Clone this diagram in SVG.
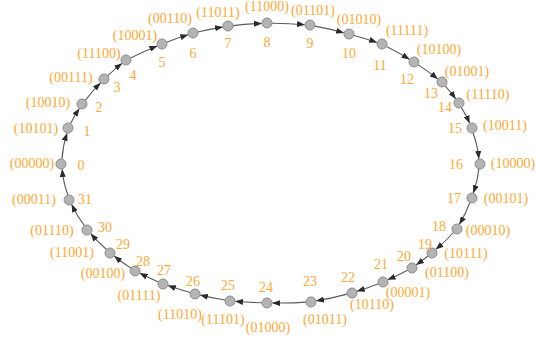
<svg xmlns="http://www.w3.org/2000/svg" width="536" height="339" viewBox="0 0 536 339">
<style>
.e{fill:none;stroke:#5a5a5a;stroke-width:1.1;marker-end:url(#ah)}
.n circle{fill:#b4b4b4;stroke:#8c8c8c;stroke-width:1}
.n text{font-family:"Liberation Serif","DejaVu Serif",serif;font-size:14px;fill:#FFA733;text-anchor:middle}
</style>
<defs>
<marker id="ah" markerUnits="userSpaceOnUse" markerWidth="8" markerHeight="6" refX="7.5" refY="3" orient="auto"><path d="M0,0 L8,3 L0,6 z" fill="#2a2a2a"/></marker>
</defs>
<rect width="536" height="339" fill="#fff"/>
<g id="connectors">
<path class="e" d="M62,159.1 A210 140 0 0 1 67,133.4"/>
<path class="e" d="M70.5,123.7 A210 140 0 0 1 79.2,108.8"/>
<path class="e" d="M85.3,100.3 A210 140 0 0 1 100.4,83.1"/>
<path class="e" d="M107.8,75.7 A210 140 0 0 1 121.8,63.6"/>
<path class="e" d="M130.6,58 A210 140 0 0 1 157,46.2"/>
<path class="e" d="M166.7,42.3 A210 140 0 0 1 187.8,34.8"/>
<path class="e" d="M197.9,32 A210 140 0 0 1 222.6,27.1"/>
<path class="e" d="M233,25.6 A210 140 0 0 1 261.5,23.4"/>
<path class="e" d="M272,23.2 A210 140 0 0 1 304.5,24.8"/>
<path class="e" d="M314.9,26.1 A210 140 0 0 1 343.6,32.8"/>
<path class="e" d="M353.8,35.5 A210 140 0 0 1 376.7,42.4"/>
<path class="e" d="M386.4,46.5 A210 140 0 0 1 409.2,59.3"/>
<path class="e" d="M418.1,64.9 A210 140 0 0 1 437.5,78.8"/>
<path class="e" d="M445.2,85.9 A210 140 0 0 1 455.5,98.7"/>
<path class="e" d="M461.3,107.4 A210 140 0 0 1 469.5,123.1"/>
<path class="e" d="M473.1,132.9 A210 140 0 0 1 478.8,158.6"/>
<path class="e" d="M478.9,168.9 A210 140 0 0 1 473.3,192.7"/>
<path class="e" d="M469.8,202.5 A210 140 0 0 1 459.4,224.1"/>
<path class="e" d="M453.4,232.5 A210 140 0 0 1 436,249.2"/>
<path class="e" d="M428,256 A210 140 0 0 1 416.4,264.7"/>
<path class="e" d="M407.5,270.2 A210 140 0 0 1 388,279.6"/>
<path class="e" d="M378.3,283.7 A210 140 0 0 1 357.2,291.2"/>
<path class="e" d="M347.1,294.1 A210 140 0 0 1 316.4,300.8"/>
<path class="e" d="M306,302.1 A210 140 0 0 1 272.5,302.9"/>
<path class="e" d="M262,302.7 A210 140 0 0 1 235.5,301.3"/>
<path class="e" d="M225.1,300 A210 140 0 0 1 200.4,295.1"/>
<path class="e" d="M190.2,292.5 A210 140 0 0 1 168.3,285.6"/>
<path class="e" d="M158.5,281.9 A210 140 0 0 1 140,273.3"/>
<path class="e" d="M130.9,268.1 A210 140 0 0 1 114.5,256.2"/>
<path class="e" d="M106.5,249.5 A210 140 0 0 1 90.9,233.9"/>
<path class="e" d="M84.4,225.7 A210 140 0 0 1 71.8,204.7"/>
<path class="e" d="M67.9,195.1 A210 140 0 0 1 62.2,169.4"/>
</g>
<g id="n0" class="n"><circle cx="61" cy="164" r="5"/><text x="81" y="170">0</text><text x="32" y="168">(00000)</text></g>
<g id="n1" class="n"><circle cx="68" cy="128" r="5"/><text x="87" y="136">1</text><text x="36" y="133">(10101)</text></g>
<g id="n2" class="n"><circle cx="82" cy="104" r="5"/><text x="99" y="112">2</text><text x="48" y="107">(10010)</text></g>
<g id="n3" class="n"><circle cx="104" cy="79" r="5"/><text x="117" y="92">3</text><text x="71" y="82">(00111)</text></g>
<g id="n4" class="n"><circle cx="126" cy="60" r="5"/><text x="133" y="80">4</text><text x="99" y="58">(11100)</text></g>
<g id="n5" class="n"><circle cx="162" cy="44" r="5"/><text x="162" y="67">5</text><text x="135" y="40">(10001)</text></g>
<g id="n6" class="n"><circle cx="193" cy="33" r="5"/><text x="193" y="58">6</text><text x="170" y="23">(00110)</text></g>
<g id="n7" class="n"><circle cx="228" cy="26" r="5"/><text x="228" y="48">7</text><text x="218" y="17">(11011)</text></g>
<g id="n8" class="n"><circle cx="267" cy="23" r="5"/><text x="267" y="47">8</text><text x="267" y="11">(11000)</text></g>
<g id="n9" class="n"><circle cx="310" cy="25" r="5"/><text x="310" y="48">9</text><text x="313" y="15">(01101)</text></g>
<g id="n10" class="n"><circle cx="349" cy="34" r="5"/><text x="349" y="58">10</text><text x="359" y="24">(01010)</text></g>
<g id="n11" class="n"><circle cx="382" cy="44" r="5"/><text x="380" y="70">11</text><text x="407" y="35">(11111)</text></g>
<g id="n12" class="n"><circle cx="414" cy="62" r="5"/><text x="407" y="84">12</text><text x="439" y="54">(10100)</text></g>
<g id="n13" class="n"><circle cx="442" cy="82" r="5"/><text x="431" y="98">13</text><text x="467" y="76">(01001)</text></g>
<g id="n14" class="n"><circle cx="459" cy="103" r="5"/><text x="445" y="112">14</text><text x="488" y="99">(11110)</text></g>
<g id="n15" class="n"><circle cx="472" cy="128" r="5"/><text x="455" y="133">15</text><text x="505" y="130">(10011)</text></g>
<g id="n16" class="n"><circle cx="480" cy="164" r="5"/><text x="456" y="169">16</text><text x="513" y="168">(10000)</text></g>
<g id="n17" class="n"><circle cx="472" cy="198" r="5"/><text x="454" y="203">17</text><text x="506" y="203">(00101)</text></g>
<g id="n18" class="n"><circle cx="457" cy="229" r="5"/><text x="439" y="231">18</text><text x="488" y="235">(00010)</text></g>
<g id="n19" class="n"><circle cx="432" cy="253" r="5"/><text x="425" y="249">19</text><text x="466" y="258">(10111)</text></g>
<g id="n20" class="n"><circle cx="412" cy="268" r="5"/><text x="404" y="261">20</text><text x="447" y="277">(01100)</text></g>
<g id="n21" class="n"><circle cx="383" cy="282" r="5"/><text x="381" y="269">21</text><text x="408" y="297">(00001)</text></g>
<g id="n22" class="n"><circle cx="352" cy="293" r="5"/><text x="348" y="282">22</text><text x="372" y="309">(10110)</text></g>
<g id="n23" class="n"><circle cx="311" cy="302" r="5"/><text x="310" y="286">23</text><text x="325" y="324">(01011)</text></g>
<g id="n24" class="n"><circle cx="267" cy="303" r="5"/><text x="266" y="292">24</text><text x="268" y="332">(01000)</text></g>
<g id="n25" class="n"><circle cx="230" cy="301" r="5"/><text x="228" y="290">25</text><text x="223" y="324">(11101)</text></g>
<g id="n26" class="n"><circle cx="195" cy="294" r="5"/><text x="193" y="286">26</text><text x="180" y="319">(11010)</text></g>
<g id="n27" class="n"><circle cx="163" cy="284" r="5"/><text x="164" y="275">27</text><text x="139" y="300">(01111)</text></g>
<g id="n28" class="n"><circle cx="135" cy="271" r="5"/><text x="143" y="266">28</text><text x="103" y="278">(00100)</text></g>
<g id="n29" class="n"><circle cx="110" cy="253" r="5"/><text x="123" y="249">29</text><text x="72" y="257">(11001)</text></g>
<g id="n30" class="n"><circle cx="87" cy="230" r="5"/><text x="105" y="232">30</text><text x="52" y="235">(01110)</text></g>
<g id="n31" class="n"><circle cx="69" cy="200" r="5"/><text x="85" y="204">31</text><text x="34" y="204">(00011)</text></g>
</svg>
